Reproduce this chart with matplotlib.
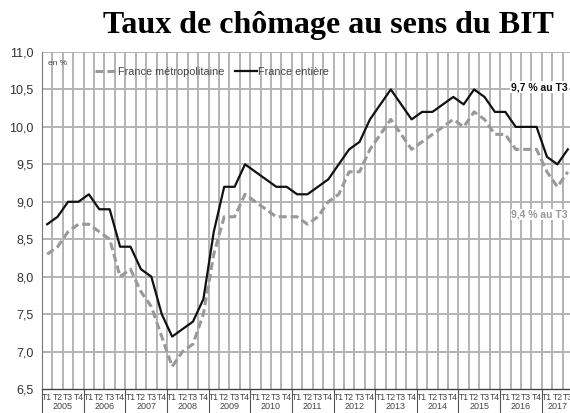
import numpy as np
import matplotlib
matplotlib.use("Agg")
from matplotlib import pyplot as plt
from matplotlib.lines import Line2D
import matplotlib.transforms as mtransforms

# Data: quarterly unemployment rate (ILO), 2005T1 -> 2017T3
years = [str(y) for y in range(2005, 2018)]
quarters = ["T1", "T2", "T3", "T4"]
france_entiere = [
    8.7, 8.8, 9.0, 9.0,
    9.1, 8.9, 8.9, 8.4,
    8.4, 8.1, 8.0, 7.5,
    7.2, 7.3, 7.4, 7.7,
    8.6, 9.2, 9.2, 9.5,
    9.4, 9.3, 9.2, 9.2,
    9.1, 9.1, 9.2, 9.3,
    9.5, 9.7, 9.8, 10.1,
    10.3, 10.5, 10.3, 10.1,
    10.2, 10.2, 10.3, 10.4,
    10.3, 10.5, 10.4, 10.2,
    10.2, 10.0, 10.0, 10.0,
    9.6, 9.5, 9.7,
]
france_metro = [
    8.3, 8.4, 8.6, 8.7,
    8.7, 8.6, 8.5, 8.0,
    8.1, 7.8, 7.6, 7.2,
    6.8, 7.0, 7.1, 7.5,
    8.3, 8.8, 8.8, 9.1,
    9.0, 8.9, 8.8, 8.8,
    8.8, 8.7, 8.8, 9.0,
    9.1, 9.4, 9.4, 9.7,
    9.9, 10.1, 9.9, 9.7,
    9.8, 9.9, 10.0, 10.1,
    10.0, 10.2, 10.1, 9.9,
    9.9, 9.7, 9.7, 9.7,
    9.4, 9.2, 9.4,
]
yticks = [6.5, 7.0, 7.5, 8.0, 8.5, 9.0, 9.5, 10.0, 10.5, 11.0]

plt.rcParams['font.family'] = ['Liberation Sans', 'DejaVu Sans']

n = len(france_entiere)
x = np.arange(n)

fig = plt.figure(figsize=(5.7, 4.13), dpi=100)
ax = fig.add_axes([42 / 570, 24 / 413, 531 / 570, (389 - 52) / 413])

# Grid: every quarter boundary and every 0.5 point
for b in np.arange(-0.5, n, 1.0):
    ax.axvline(b, color='#b3b3b3', lw=1.4, zorder=0)
for v in yticks[1:]:
    ax.axhline(v, color='#b3b3b3', lw=1.4, zorder=0)

ax.plot(x, france_metro, color='#999999', lw=2.2, dashes=(2.6, 1.3),
        label='France métropolitaine', zorder=3)
ax.plot(x, france_entiere, color='#111111', lw=1.6,
        label='France entière', zorder=4)

ax.set_xlim(-0.5, n - 0.5)
ax.set_ylim(6.5, 11.0)
ax.set_yticks(yticks)
ax.set_yticklabels([f"{v:.1f}".replace('.', ',') for v in yticks],
                   fontsize=9, color='#333333')
ax.tick_params(axis='y', length=0, pad=6)

# Year separators as long ticks
year_bounds = np.arange(-0.5, n, 4.0)
ax.set_xticks(year_bounds)
ax.set_xticklabels([])
ax.tick_params(axis='x', length=18, width=0.8, color='#555555', direction='out')

for s in ['top', 'right']:
    ax.spines[s].set_visible(False)
ax.spines['left'].set_color('#777777')
ax.spines['bottom'].set_color('#444444')
ax.spines['bottom'].set_linewidth(1.0)

trans = mtransforms.blended_transform_factory(ax.transData, ax.transAxes)
for i in range(n):
    ax.text(i, -0.012, quarters[i % 4], transform=trans, ha='center', va='top',
            fontsize=6.2, color='#444444')
for k, yr in enumerate(years):
    last = min(4 * k + 3, n - 1)
    ax.text((4 * k + last) / 2, -0.04, yr, transform=trans, ha='center', va='top',
            fontsize=6.5, color='#444444')

ax.text(0.012, 0.965, "en %", transform=ax.transAxes, fontsize=6, color='#444444',
        va='center', ha='left')

handles = [
    Line2D([], [], color='#999999', lw=2.2, dashes=(2.6, 1.3)),
    Line2D([], [], color='#111111', lw=1.6),
]
leg = ax.legend(handles, ['France métropolitaine', 'France entière'], ncol=2,
                frameon=False, loc='center left', bbox_to_anchor=(0.1, 0.94),
                fontsize=7.8, handlelength=2.0, handletextpad=0.1, columnspacing=1.0,
                borderaxespad=0, borderpad=0)
for t in leg.get_texts():
    t.set_color('#444444')

ax.text(n - 1, 10.53, "9,7 % au T3", ha='right', va='center', fontsize=7.5,
        fontweight='bold', color='#111111',
        bbox=dict(facecolor='white', edgecolor='none', pad=0.5), zorder=5)
ax.text(n - 1, 8.83, "9,4 % au T3", ha='right', va='center', fontsize=7.5,
        fontweight='bold', color='#999999',
        bbox=dict(facecolor='white', edgecolor='none', pad=0.5), zorder=5)

fig.text(0.577, 1 - 33 / 413, "Taux de chômage au sens du BIT", ha='center',
         va='baseline', fontsize=23, fontweight='bold', family='Liberation Serif')

fig.savefig("out.png", dpi=100)
